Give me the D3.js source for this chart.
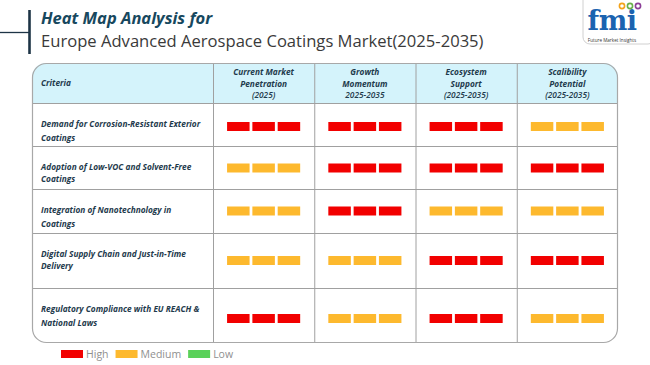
<!DOCTYPE html>
<html><head><meta charset="utf-8">
<script src="https://cdn.jsdelivr.net/npm/d3@7"></script>
<style>
html,body{margin:0;padding:0;background:#fff;}
svg{display:block;}
</style></head>
<body>
<svg id="c" width="650" height="365"></svg>
<script>
// ---------- DATA ----------
const criteria = [
  ["Demand for Corrosion-Resistant Exterior", "Coatings"],
  ["Adoption of Low-VOC and Solvent-Free", "Coatings"],
  ["Integration of Nanotechnology in", "Coatings"],
  ["Digital Supply Chain and Just-in-Time", "Delivery"],
  ["Regulatory Compliance with EU REACH &", "National Laws"]
];
const columns = [
  ["Current Market", "Penetration", "(2025)"],
  ["Growth", "Momentum", "2025-2035"],
  ["Ecosystem", "Support", "(2025-2035)"],
  ["Scalibility", "Potential", "(2025-2035)"]
];
const levels = [
  ["High", "High", "High", "Medium"],
  ["Medium", "High", "High", "High"],
  ["Medium", "High", "Medium", "Medium"],
  ["Medium", "Medium", "High", "High"],
  ["High", "Medium", "High", "Medium"]
];
const legendLabels = ["High", "Medium", "Low"];

// ---------- LAYOUT ----------
const svg = d3.select("#c");
const color = d3.scaleOrdinal().domain(legendLabels).range(["#f20000", "#fdb92e", "#5ad15a"]);
const T = {x0: 32, x1: 618, y0: 63, headerH: 40, r: 14};
const rowH = [43, 43, 44, 55, 55];
const lineGap = [14, 12, 14, 12, 14];
const barDy = [2, 0.5, 0, 0, 3];
const rowTop = rowH.reduce((a, h, i) => (a.push(a[i] + h), a), [T.y0 + T.headerH]);
const y1 = rowTop[rowTop.length - 1];
const critRight = 213;
const x = d3.scaleBand().domain(columns.map((c, i) => i)).range([critRight, T.x1]);
const textCol = "#1e3a4c";
const fs = 8.3;

// Title
svg.append("line").attr("x1", 0).attr("x2", 30).attr("y1", 32.5).attr("y2", 32.5).attr("stroke", "#1d3446").attr("stroke-width", 1.3);
svg.append("line").attr("x1", 29.5).attr("x2", 29.5).attr("y1", 10).attr("y2", 54).attr("stroke", "#1d3446").attr("stroke-width", 2.6);
svg.append("text").attr("x", 41).attr("y", 24).text("Heat Map Analysis for")
  .attr("font-family", "'Open Sans', sans-serif").attr("font-size", 16.5).attr("font-weight", 700).attr("font-style", "italic").attr("fill", "#17485e");
svg.append("text").attr("x", 41).attr("y", 47).text("Europe Advanced Aerospace Coatings Market(2025-2035)")
  .attr("font-family", "'Open Sans', sans-serif").attr("font-size", 16.6).attr("fill", "#3a3a3a");

// Logo
const lg = svg.append("g");
lg.append("rect").attr("x", 583).attr("y", -8).attr("width", 72).attr("height", 52).attr("rx", 7).attr("fill", "#fff").attr("stroke", "#d0d0d0");
lg.append("text").attr("x", 612).attr("y", 30).attr("text-anchor", "middle").text("fmi")
  .attr("font-family", "'DejaVu Serif', serif").attr("font-weight", 700).attr("font-size", 27).attr("fill", "#1b63b0").attr("letter-spacing", -0.5);
[["#f3a31b", 622], ["#6ab04c", 630], ["#8c3f98", 638]].forEach(([c, cx]) =>
  lg.append("circle").attr("cx", cx).attr("cy", 6).attr("r", 2.6).attr("fill", "none").attr("stroke", c).attr("stroke-width", 1.6));
lg.append("text").attr("x", 612).attr("y", 42).attr("text-anchor", "middle").text("Future Market Insights")
  .attr("font-family", "'Open Sans', sans-serif").attr("font-size", 4.6).attr("fill", "#333");

// Table
const clip = svg.append("defs").append("clipPath").attr("id", "tc");
clip.append("rect").attr("x", T.x0).attr("y", T.y0).attr("width", T.x1 - T.x0).attr("height", y1 - T.y0).attr("rx", T.r);
const tg = svg.append("g").attr("clip-path", "url(#tc)");
tg.append("rect").attr("x", T.x0).attr("y", T.y0).attr("width", T.x1 - T.x0).attr("height", T.headerH).attr("fill", "#d4f3fb");
tg.selectAll("line.h").data(rowTop.slice(0, -1)).join("line")
  .attr("x1", T.x0).attr("x2", T.x1).attr("y1", d => d + 0.5).attr("y2", d => d + 0.5).attr("stroke", "#a0a0a0").attr("stroke-width", 1);
tg.selectAll("line.v").data(columns.map((c, i) => i)).join("line")
  .attr("x1", d => x(d) + 0.5).attr("x2", d => x(d) + 0.5).attr("y1", T.y0).attr("y2", y1).attr("stroke", "#a0a0a0");
svg.append("rect").attr("x", T.x0 + 0.5).attr("y", T.y0 + 0.5).attr("width", T.x1 - T.x0 - 1).attr("height", y1 - T.y0 - 1)
  .attr("rx", T.r).attr("fill", "none").attr("stroke", "#a8a8a8").attr("stroke-width", 1.2);

const fontF = "'Open Sans', sans-serif";
svg.append("text").attr("x", 41).attr("y", 86).text("Criteria")
  .attr("font-family", fontF).attr("font-size", fs).attr("font-weight", 700).attr("font-style", "italic").attr("fill", textCol);
columns.forEach((lines, i) => {
  lines.forEach((t, j) => {
    svg.append("text").attr("x", x(i) + x.bandwidth() / 2).attr("y", 75 + j * 11.5).attr("text-anchor", "middle").text(t)
      .attr("font-family", fontF).attr("font-size", fs).attr("font-weight", j < 2 ? 700 : 600).attr("font-style", "italic").attr("fill", textCol);
  });
});
criteria.forEach((lines, r) => {
  lines.forEach((t, j) => {
    svg.append("text").attr("x", 41).attr("y", rowTop[r] + 24 + j * lineGap[r]).text(t)
      .attr("font-family", fontF).attr("font-size", fs).attr("font-weight", 700).attr("font-style", "italic").attr("fill", textCol);
  });
});
// bars
const bw = 22.5, step = 25.3, bh = 9;
levels.forEach((row, r) => {
  const cy = rowTop[r] + rowH[r] / 2 + barDy[r];
  row.forEach((lv, c) => {
    const cx = x(c) + x.bandwidth() / 2;
    [0, 1, 2].forEach(k => {
      svg.append("rect").attr("x", cx - (step * 2 + bw) / 2 + k * step).attr("y", cy - bh / 2)
        .attr("width", bw).attr("height", bh).attr("fill", color(lv));
    });
  });
});
// legend
let lx = 61;
legendLabels.forEach(l => {
  svg.append("rect").attr("x", lx).attr("y", 350).attr("width", 22).attr("height", 8).attr("fill", color(l));
  const t = svg.append("text").attr("x", lx + 25).attr("y", 358).text(l)
    .attr("font-family", "'Open Sans', sans-serif").attr("font-size", 10.5).attr("fill", "#8f8f8f");
  lx += 25 + t.node().getComputedTextLength() + 7;
});
</script>
</body></html>
